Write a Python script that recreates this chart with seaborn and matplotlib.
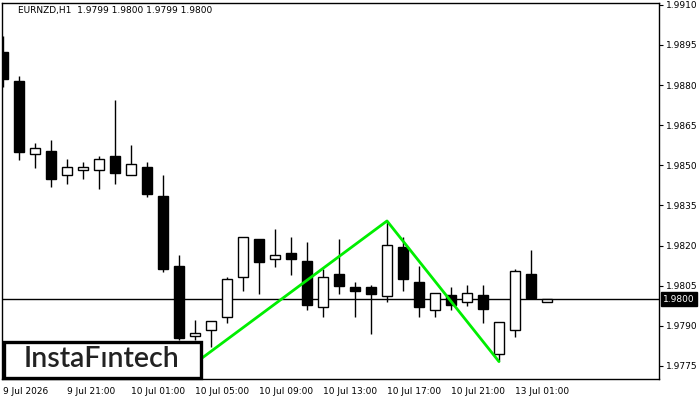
import numpy as np
import pandas as pd
import matplotlib
matplotlib.use("Agg")
import matplotlib.pyplot as plt
from matplotlib.patches import Rectangle
import seaborn as sns

# EURNZD H1 candles
opens = [1.98924, 1.98816, 1.98543, 1.98554, 1.98464, 1.98483, 1.98483, 1.98535, 1.98464, 1.98494,
         1.98386, 1.98124, 1.97862, 1.97885, 1.97933, 1.98083, 1.98225, 1.98150, 1.98172, 1.98143,
         1.97971, 1.98094, 1.98045, 1.98045, 1.98012, 1.98195, 1.98064, 1.97959, 1.98015, 1.97989,
         1.98015, 1.97795, 1.97885, 1.98094, 1.97990]
highs = [1.98984, 1.98834, 1.98584, 1.98595, 1.98524, 1.98513, 1.98535, 1.98745, 1.98576, 1.98513,
         1.98464, 1.98165, 1.97922, 1.97918, 1.98083, 1.98232, 1.98225, 1.98262, 1.98232, 1.98214,
         1.98113, 1.98225, 1.98064, 1.98053, 1.98292, 1.98232, 1.98124, 1.98023, 1.98045, 1.98053,
         1.98053, 1.97914, 1.98113, 1.98184, 1.98000]
lows = [1.98793, 1.98520, 1.98490, 1.98419, 1.98431, 1.98449, 1.98412, 1.98431, 1.98464, 1.98382,
        1.98101, 1.97847, 1.97847, 1.97821, 1.97911, 1.98030, 1.98019, 1.98120, 1.98090, 1.97959,
        1.97933, 1.98019, 1.97933, 1.97870, 1.97989, 1.98030, 1.97933, 1.97933, 1.97959, 1.97974,
        1.97911, 1.97769, 1.97858, 1.98004, 1.97990]
closes = [1.98823, 1.98550, 1.98565, 1.98449, 1.98494, 1.98494, 1.98524, 1.98472, 1.98505, 1.98393,
          1.98113, 1.97855, 1.97873, 1.97918, 1.98075, 1.98232, 1.98139, 1.98165, 1.98150, 1.97978,
          1.98083, 1.98049, 1.98030, 1.98019, 1.98202, 1.98075, 1.97971, 1.98023, 1.97978, 1.98023,
          1.97963, 1.97914, 1.98105, 1.98004, 1.98000]

# double top pattern line
pattern_bar = [12, 24, 31]
pattern_price = [1.97760, 1.98292, 1.97766]

bid = 1.9800
tick_bars = [0, 4, 8, 12, 16, 20, 24, 28, 32]
tick_names = ['9 Jul 2026', '9 Jul 21:00', '10 Jul 01:00', '10 Jul 05:00', '10 Jul 09:00',
              '10 Jul 13:00', '10 Jul 17:00', '10 Jul 21:00', '13 Jul 01:00']
price_ticks = [1.9775, 1.9790, 1.9805, 1.9820, 1.9835, 1.9850, 1.9865, 1.9880, 1.9895, 1.9910]

df = pd.DataFrame({'open': opens, 'high': highs, 'low': lows, 'close': closes})
df['bar'] = np.arange(len(df))
df['up'] = df['close'] >= df['open']

sns.set_theme(style="white")
plt.rcParams['font.family'] = ['DejaVu Sans']

fig = plt.figure(figsize=(7, 4), dpi=100)
ax = fig.add_axes([2 / 700, 21 / 400, 657 / 700, 376 / 400])

# wicks
ax.vlines(df['bar'], df['low'], df['high'], color='black', linewidth=1, zorder=2)
# bodies
body_lo = df[['open', 'close']].min(axis=1)
body_h = (df['close'] - df['open']).abs().clip(lower=0.000015)
colors = ['white' if u else 'black' for u in df['up']]
ax.bar(df['bar'], body_h, bottom=body_lo, width=0.62, color=colors,
       edgecolor='black', linewidth=1, zorder=3)

ax.axhline(bid, color='black', linewidth=1, zorder=1)

pat = pd.DataFrame({'bar': pattern_bar, 'price': pattern_price})
sns.lineplot(data=pat, x='bar', y='price', color='#00ee00', linewidth=2, ax=ax, zorder=4)

ax.set_xlim(-0.0625, 41.0)
ax.set_ylim(1.97701, 1.99107)
ax.set_xlabel('')
ax.set_ylabel('')

ax.yaxis.tick_right()
ax.set_yticks(price_ticks)
ax.set_yticklabels(['%.4f' % p for p in price_ticks])
ax.set_xticks(tick_bars)
ax.set_xticklabels(tick_names, ha='left')
ax.tick_params(axis='both', direction='out', length=3, width=0.8, color='black',
               labelsize=6.5, labelcolor='black', pad=2)
ax.tick_params(axis='x', pad=3)
for s in ax.spines.values():
    s.set_color('black')
    s.set_linewidth(1)

fig.text(18 / 700, 1 - 11 / 400, 'EURNZD,H1  1.9799 1.9800 1.9799 1.9800',
         fontsize=6.5, color='black', va='center', ha='left')

ax.text(1.006, bid, '%.4f' % bid, transform=ax.get_yaxis_transform(),
        color='white', fontsize=6.5, va='center', ha='left',
        bbox=dict(facecolor='black', edgecolor='black', pad=1.5))

# logo box
fig.add_artist(Rectangle((4 / 700, 22 / 400), 197 / 700, 36 / 400, transform=fig.transFigure,
                         facecolor='white', edgecolor='black', linewidth=2.4, zorder=10))
fig.text(102 / 700, 1 - 359 / 400, 'InstaFıntech', family='Lato', fontweight='semibold',
         fontsize=20.5, color='#222222', ha='center', va='center', zorder=11)

fig.savefig('out.png', dpi=100)
